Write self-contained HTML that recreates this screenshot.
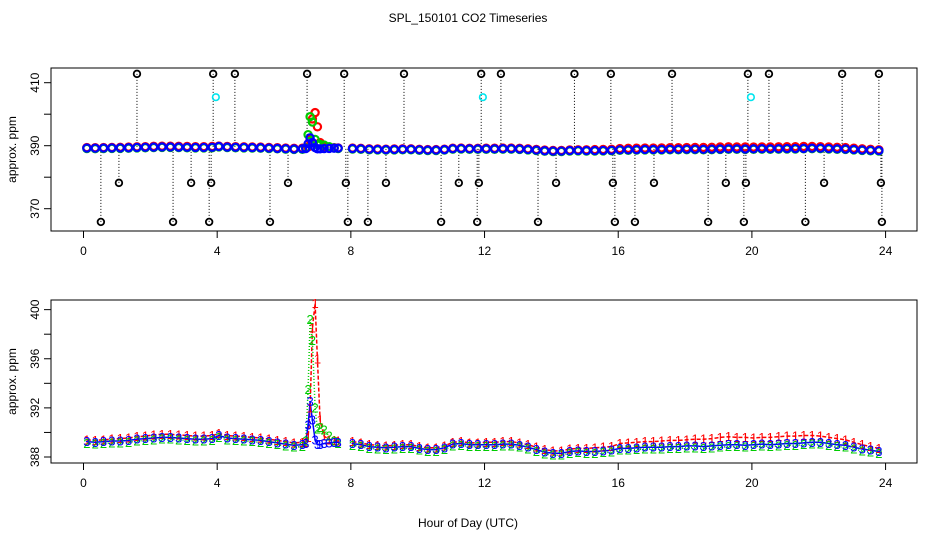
<!DOCTYPE html>
<html><head><meta charset="utf-8"><style>
html,body{margin:0;padding:0;background:#fff;}
svg{display:block;font-family:"Liberation Sans",sans-serif;}
</style></head><body>
<svg id="chart" width="936" height="540" viewBox="0 0 936 540">
<text x="468" y="22" font-size="12" text-anchor="middle">SPL_150101  CO2 Timeseries</text>
<text x="468" y="527" font-size="12" text-anchor="middle">Hour of Day (UTC)</text>
<g id="top"></g>
<g id="bot"></g>
</svg>
<script>
const hours=[0.1,0.35,0.6,0.85,1.1,1.35,1.6,1.85,2.1,2.35,2.6,2.85,3.1,3.35,3.6,3.85,
4.05,4.3,4.55,4.8,5.05,5.3,5.55,5.8,6.05,6.3,6.55,6.65,6.72,6.78,6.85,6.93,7.0,7.08,7.2,7.35,7.5,7.62,
8.05,8.3,8.55,8.8,9.05,9.3,9.55,9.8,10.05,10.3,10.55,10.8,11.05,11.3,11.55,11.8,
12.05,12.3,12.55,12.8,13.05,13.3,13.55,13.8,14.05,14.3,14.55,14.8,15.05,15.3,15.55,15.8,
16.05,16.3,16.55,16.8,17.05,17.3,17.55,17.8,18.05,18.3,18.55,18.8,19.05,19.3,19.55,19.8,
20.05,20.3,20.55,20.8,21.05,21.3,21.55,21.8,22.05,22.3,22.55,22.8,23.05,23.3,23.55,23.8];
const sensor1=[389.4,389.35,389.4,389.45,389.5,389.55,389.65,389.7,389.8,389.85,389.85,389.8,389.75,389.7,389.7,389.75,
389.9,389.75,389.7,389.65,389.6,389.55,389.45,389.35,389.25,389.15,389.2,389.2,389.6,392.0,398.5,400.5,396.0,391.0,389.7,389.4,389.35,389.3,
389.25,389.15,389.0,388.95,388.9,388.95,389.0,389.0,388.85,388.75,388.75,388.9,389.2,389.25,389.15,389.15,
389.2,389.2,389.25,389.25,389.15,389.0,388.8,388.6,388.5,388.5,388.65,388.7,388.7,388.75,388.8,388.85,
389.1,389.15,389.2,389.25,389.25,389.3,389.35,389.35,389.4,389.45,389.45,389.5,389.6,389.65,389.6,389.6,
389.55,389.6,389.6,389.65,389.7,389.7,389.75,389.75,389.7,389.6,389.5,389.4,389.2,389.0,388.85,388.7];
const sensor2=[389.1,389.05,389.1,389.15,389.15,389.2,389.3,389.35,389.4,389.45,389.45,389.4,389.35,389.3,389.3,389.35,
389.6,389.4,389.35,389.3,389.25,389.2,389.1,389.0,388.9,388.8,388.85,389.3,393.5,399.2,397.5,392.0,390.3,390.4,390.2,389.7,389.3,389.1,
388.95,388.85,388.7,388.65,388.6,388.65,388.7,388.7,388.55,388.45,388.45,388.6,388.9,388.95,388.85,388.85,
388.85,388.85,388.9,388.9,388.8,388.65,388.45,388.25,388.15,388.15,388.3,388.35,388.3,388.3,388.35,388.4,
388.55,388.55,388.6,388.65,388.65,388.65,388.7,388.7,388.75,388.75,388.7,388.75,388.8,388.85,388.85,388.8,
388.85,388.9,388.85,388.9,388.95,388.95,389.0,389.05,389.05,388.95,388.85,388.8,388.65,388.5,388.4,388.3];
const sensor3=[389.25,389.2,389.25,389.3,389.3,389.35,389.45,389.5,389.55,389.6,389.6,389.55,389.5,389.45,389.45,389.5,
389.75,389.55,389.5,389.45,389.4,389.35,389.25,389.15,389.05,388.95,389.0,389.1,390.6,392.5,391.0,389.4,389.0,389.0,389.1,389.15,389.2,389.2,
389.1,389.0,388.85,388.8,388.75,388.8,388.85,388.85,388.7,388.6,388.6,388.75,389.05,389.1,389.0,389.0,
389.0,389.0,389.05,389.05,388.95,388.8,388.6,388.4,388.3,388.3,388.45,388.5,388.45,388.45,388.5,388.55,
388.7,388.7,388.75,388.8,388.8,388.8,388.85,388.85,388.9,388.9,388.85,388.9,388.95,389.0,389.0,388.95,
389.0,389.05,389.0,389.05,389.1,389.1,389.15,389.2,389.2,389.1,389.0,388.95,388.8,388.65,388.55,388.45];
const outlierHours=[1.6,3.88,4.53,6.69,7.8,9.59,11.9,12.49,14.69,15.78,17.61,19.88,20.51,22.7,23.8,
1.06,3.22,3.82,6.12,7.85,9.05,11.23,11.83,14.14,15.84,17.07,19.22,19.82,22.16,23.86,
0.52,2.68,3.76,5.58,7.91,8.51,10.7,11.78,13.6,15.9,16.5,18.69,19.76,21.6,23.89];
const outlierValues=[412.8,412.8,412.8,412.8,412.8,412.8,412.8,412.8,412.8,412.8,412.8,412.8,412.8,412.8,412.8,
378.2,378.2,378.2,378.2,378.2,378.2,378.2,378.2,378.2,378.2,378.2,378.2,378.2,378.2,378.2,
365.8,365.8,365.8,365.8,365.8,365.8,365.8,365.8,365.8,365.8,365.8,365.8,365.8,365.8,365.8];
const cyanHours=[3.96,11.95,19.97];
const cyanValues=[405.4,405.4,405.4];
const xTicks=[0,4,8,12,16,20,24];
const topYTicks=[370,380,390,400,410];
const topYLabels=["370","","390","","410"];
const botYTicks=[388,390,392,394,396,398,400];
const botYLabels=["388","","392","","396","","400"];

const NS="http://www.w3.org/2000/svg";
const L=51,R=917;
const xs=h=>83.5+h*33.42;
const topY=v=>145.7-(v-390)*3.15;
const botY=v=>457-(v-388)*12.28;
function mk(parent,tag,attrs){const e=document.createElementNS(NS,tag);for(const k in attrs)e.setAttribute(k,attrs[k]);parent.appendChild(e);return e;}

function axes(g,top,bot,yfn,yt,yl,prefix){
  const box=mk(g,'rect',{x:L,y:top,width:R-L,height:bot-top,fill:'none',stroke:'#000','stroke-width':1});
  
  
  const xa=mk(g,'line',{x1:xs(0),x2:xs(24),y1:bot,y2:bot,stroke:'#000'});
  
  
  xTicks.forEach(t=>{
    const tk=mk(g,'line',{x1:xs(t),x2:xs(t),y1:bot,y2:bot+7,stroke:'#000'});
    
    
    const tx=mk(g,'text',{x:xs(t),y:bot+24,'font-size':12,'text-anchor':'middle'});
    tx.textContent=t;
    
    
  });
  yt.forEach((t,i)=>{
    const y=yfn(t);
    const tk=mk(g,'line',{x1:L-7,x2:L,y1:y,y2:y,stroke:'#000'});
    
    
    if(yl[i]){
      const tx=mk(g,'text',{x:0,y:0,'font-size':12,'text-anchor':'middle',transform:`translate(${L-12},${y}) rotate(-90)`});
      tx.textContent=yl[i];
      
      
    }
  });
  const ya=mk(g,'line',{x1:L,x2:L,y1:yfn(yt[0]),y2:yfn(yt[yt.length-1]),stroke:'#000'});
  
  
  const yt2=mk(g,'text',{x:0,y:0,'font-size':12,'text-anchor':'middle',transform:`translate(16,${(top+bot)/2}) rotate(-90)`});
  yt2.textContent='approx. ppm';
  
  
}

const topG=document.getElementById('top');
const botG=document.getElementById('bot');
axes(topG,68,231,topY,topYTicks,topYLabels,'top');
axes(botG,300,463,botY,botYTicks,botYLabels,'bottom');

outlierHours.forEach((h,i)=>{
  const st=mk(topG,'line',{x1:xs(h),x2:xs(h),y1:topY(outlierValues[i]),y2:topY(389.6),stroke:'#000','stroke-dasharray':'1,2'});
  
  
});
const seriesCols=['#ff0000','#00cc00','#0000ff'];
const seriesData=[sensor1,sensor2,sensor3];
seriesData.forEach((arr,si)=>{
  hours.forEach((h,i)=>{
    const c=mk(topG,'circle',{cx:xs(h),cy:topY(arr[i]),r:3.6,fill:'none',stroke:seriesCols[si],'stroke-width':2.2});
    
    
  });
});
outlierHours.forEach((h,i)=>{
  const c=mk(topG,'circle',{cx:xs(h),cy:topY(outlierValues[i]),r:3.3,fill:'none',stroke:'#000','stroke-width':1.8});
  
  
});
cyanHours.forEach((h,i)=>{
  const c=mk(topG,'circle',{cx:xs(h),cy:topY(cyanValues[i]),r:3.3,fill:'none',stroke:'#00e5ee','stroke-width':1.6});
  
  
});

const dashes=['4,2','1,2','none'];
seriesData.forEach((arr,si)=>{
  let d='';
  hours.forEach((h,i)=>{
    const brk=i===0||h-hours[i-1]>0.3;
    d+=(brk?'M':'L')+xs(h).toFixed(1)+','+botY(arr[i]).toFixed(1);
  });
  const p=mk(botG,'path',{d:d,fill:'none',stroke:seriesCols[si],'stroke-width':1.5,'stroke-dasharray':dashes[si]});
  
  
});
seriesData.forEach((arr,si)=>{
  hours.forEach((h,i)=>{
    const t=mk(botG,'text',{x:xs(h),y:botY(arr[i])+4.5,'font-size':13,'text-anchor':'middle',fill:seriesCols[si]});
    t.textContent=String(si+1);
    
    
  });
});
</script>
</body></html>
